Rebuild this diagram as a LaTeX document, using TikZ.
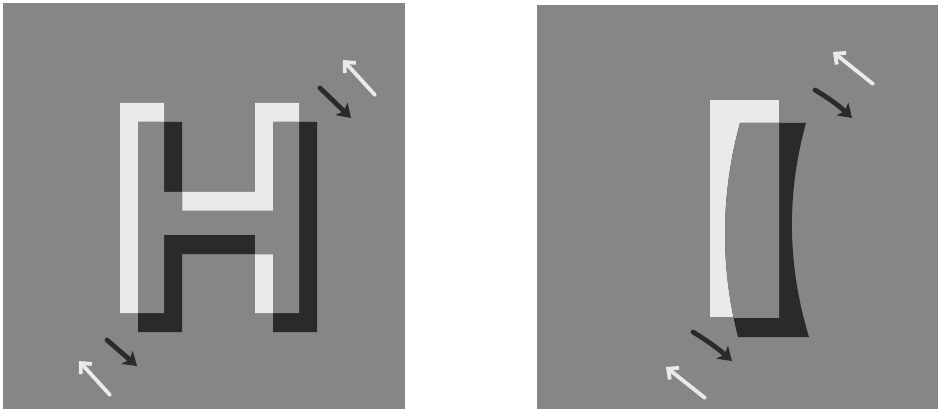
\documentclass[tikz,border=0pt]{standalone}
\usetikzlibrary{arrows.meta}
\definecolor{bggray}{RGB}{134,134,134}
\definecolor{litegray}{RGB}{234,234,234}
\definecolor{darkgray2}{RGB}{42,42,42}
\newcommand\myHpath{(0,0) -- (44,0) -- (44,89) -- (135,89) -- (135,0) -- (179,0) -- (179,210) -- (135,210) -- (135,132) -- (44,132) -- (44,210) -- (0,210) -- cycle}
\newcommand\myLens{(740,123) -- (806,123) .. controls (786.3,194.3) and (787.3,265.7) .. (809,337) -- (738,337) .. controls (720,265.7) and (720.7,194.3) .. (740,123) -- cycle}
\begin{document}
\begin{tikzpicture}[x=1pt,y=-1pt,
  panel/.style={fill=bggray},
  litefill/.style={fill=litegray},
  darkfill/.style={fill=darkgray2},
  litearrow/.style={draw=litegray, line width=3.8pt, line cap=round,
    -{Straight Barb[length=8pt,width=15pt]}},
  darkarrow/.style={draw=darkgray2, line width=4.8pt, line cap=round,
    -{Stealth[length=13pt,width=17pt,inset=3pt]}}]
\useasboundingbox (0,0) rectangle (938,409);
% panels
\fill[panel] (3,3) rectangle (405,409);
\fill[panel] (537,5) rectangle (938,409);
% H: light copy, dark copy, overlap back to gray
\fill[litefill, shift={(120,103)}] \myHpath;
\fill[darkfill, shift={(138,122)}] \myHpath;
\begin{scope}
  \clip[shift={(120,103)}] \myHpath;
  \fill[panel, shift={(138,122)}] \myHpath;
\end{scope}
% bar: light rectangle, dark curved copy, overlap gray
\fill[litefill] (710,100) rectangle (779,317);
\fill[darkfill] \myLens;
\begin{scope}
  \clip (710,100) rectangle (779,317);
  \fill[panel] \myLens;
\end{scope}
% arrow end points
\coordinate (lwt1) at (375,95);  \coordinate (lwt2) at (343,60);
\coordinate (ldt1) at (320,88);  \coordinate (ldt2) at (351,118);
\coordinate (ldb1) at (107,340); \coordinate (ldb2) at (137,366);
\coordinate (lwb1) at (110,395); \coordinate (lwb2) at (79,361);
\coordinate (rwt1) at (873,84);  \coordinate (rwt2) at (833,52);
\coordinate (rdt1) at (815,90);  \coordinate (rdt2) at (852,118);
\coordinate (rdb1) at (693,332); \coordinate (rdb2) at (732,361);
\coordinate (rwb1) at (705,398); \coordinate (rwb2) at (666,367);
% arrows
\draw[litearrow] (lwt1) -- (lwt2);
\draw[darkarrow] (ldt1) -- (ldt2);
\draw[darkarrow] (ldb1) -- (ldb2);
\draw[litearrow] (lwb1) -- (lwb2);
\draw[litearrow] (rwt1) -- (rwt2);
\draw[darkarrow] (rdt1) to[bend left=6] (rdt2);
\draw[darkarrow] (rdb1) to[bend left=5] (rdb2);
\draw[litearrow] (rwb1) -- (rwb2);
\end{tikzpicture}
\end{document}
